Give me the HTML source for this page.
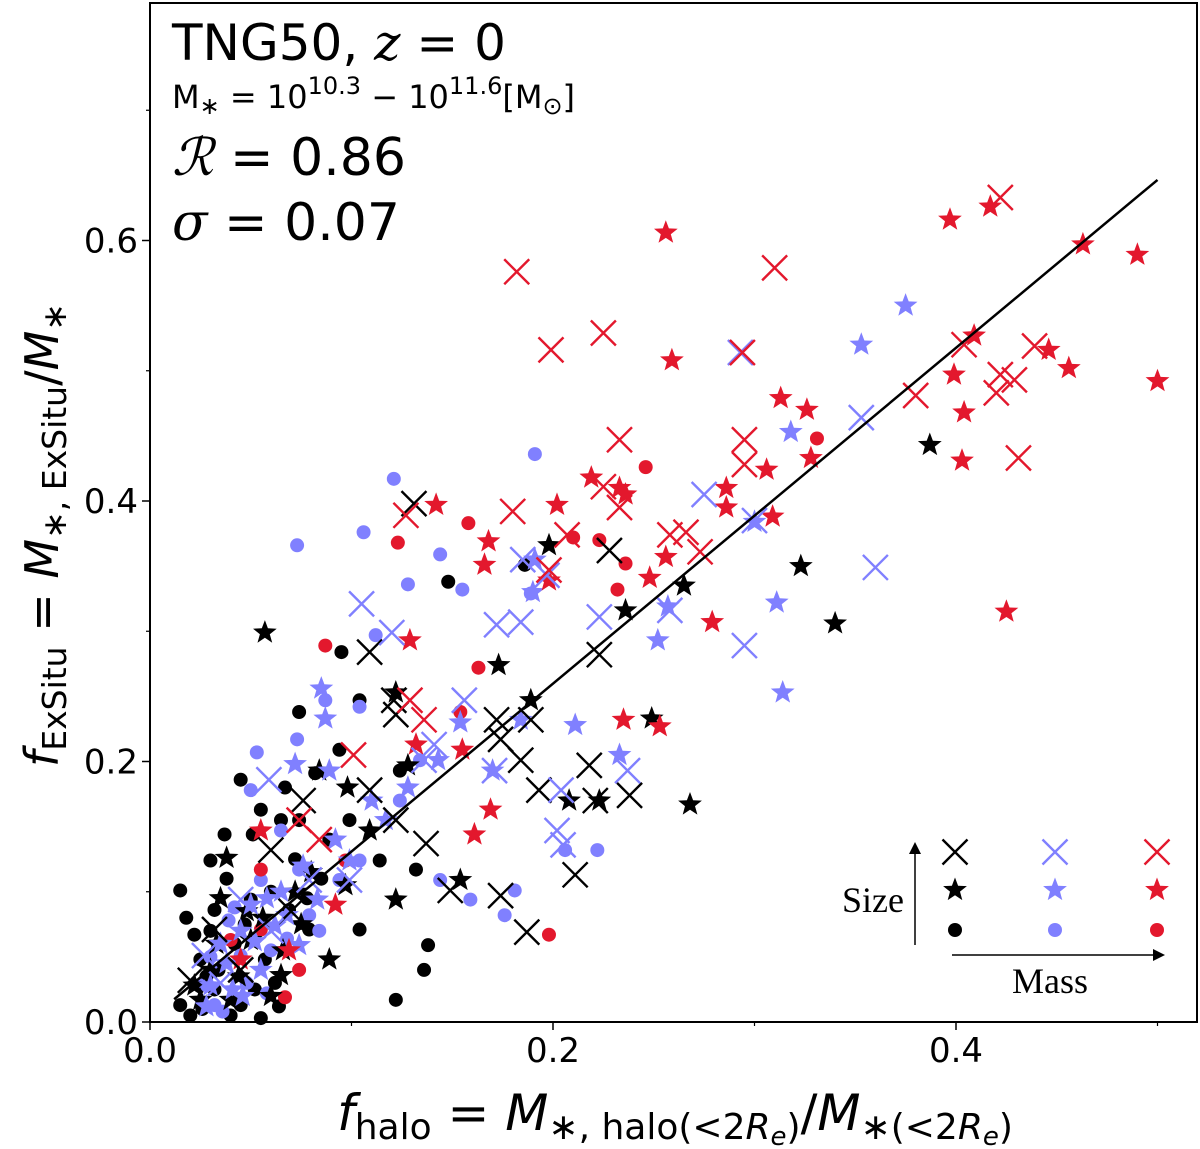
<!DOCTYPE html>
<html><head><meta charset="utf-8"><style>
html,body{margin:0;padding:0;background:#fff;}
svg{display:block;font-family:"DejaVu Sans","Liberation Sans",sans-serif;}
</style></head><body>
<svg id="chart" width="1200" height="1149" viewBox="0 0 1200 1149" xmlns="http://www.w3.org/2000/svg">
<rect x="150" y="3" width="1047" height="1019" fill="#fff" stroke="#000" stroke-width="2"/>
<g id="marks"></g>
<g id="axes"></g>
<g>
<text x="172" y="60" font-size="50">TNG50, <tspan font-style="italic" font-family="DejaVu Serif,serif">z</tspan> = 0</text>
<text x="172" y="108" font-size="32">M<tspan dy="6" font-size="24">∗</tspan><tspan dy="-6"> = 10</tspan><tspan dy="-14" font-size="24">10.3</tspan><tspan dy="14"> − 10</tspan><tspan dy="-14" font-size="24">11.6</tspan><tspan dy="14">[M</tspan><tspan dy="6" font-size="24">⊙</tspan><tspan dy="-6">]</tspan></text>
<text x="172" y="175" font-size="52"><tspan font-style="italic" font-family="DejaVu Serif,serif">ℛ</tspan> = 0.86</text>
<text x="172" y="240" font-size="52"><tspan font-style="italic" font-family="DejaVu Serif,serif">σ</tspan> = 0.07</text>
</g>
<g>
<text x="873" y="912" font-size="36" text-anchor="middle" font-family="Liberation Serif,serif">Size</text>
<line x1="915" y1="945" x2="915" y2="852" stroke="#000" stroke-width="1.5"/>
<path d="M909,854 L915,842 L921,854 Z" fill="#000"/>
<line x1="952" y1="955" x2="1155" y2="955" stroke="#000" stroke-width="1.5"/>
<path d="M1153,949 L1165,955 L1153,961 Z" fill="#000"/>
<text x="1050" y="993" font-size="36" text-anchor="middle" font-family="Liberation Serif,serif">Mass</text>
<g id="legend-marks"></g>
</g>
<text x="675" y="1130" font-size="50" text-anchor="middle"><tspan font-style="italic">f</tspan><tspan dy="9" font-size="36">halo</tspan><tspan dy="-9"> = </tspan><tspan font-style="italic">M</tspan><tspan dy="9" font-size="36">∗, halo(&lt;2</tspan><tspan font-size="36" font-style="italic">R</tspan><tspan dy="6" font-size="26" font-style="italic">e</tspan><tspan dy="-6" font-size="36">)</tspan><tspan dy="-9">/</tspan><tspan font-style="italic">M</tspan><tspan dy="9" font-size="36">∗(&lt;2</tspan><tspan font-size="36" font-style="italic">R</tspan><tspan dy="6" font-size="26" font-style="italic">e</tspan><tspan dy="-6" font-size="36">)</tspan></text>
<text transform="translate(58,535) rotate(-90)" font-size="46" text-anchor="middle"><tspan font-style="italic">f</tspan><tspan dy="8" font-size="33">ExSitu</tspan><tspan dy="-8"> = </tspan><tspan font-style="italic">M</tspan><tspan dy="8" font-size="33">∗, ExSitu</tspan><tspan dy="-8">/</tspan><tspan font-style="italic">M</tspan><tspan dy="8" font-size="33">∗</tspan></text>
</svg>
<script>
const xTicks = [0.0, 0.2, 0.4];
const yTicks = [0.0, 0.2, 0.4, 0.6];
const xTickLabels = ["0.0", "0.2", "0.4"];
const yTickLabels = ["0.0", "0.2", "0.4", "0.6"];
const fitSlope = 1.289;
const fitIntercept = 0.002;
const fitRange = [0.012, 0.5];

const redX = [[0.182,0.576],[0.199,0.516],[0.225,0.529],[0.310,0.579],[0.422,0.633],[0.225,0.411],[0.294,0.514],[0.380,0.481],[0.404,0.520],[0.422,0.497],[0.439,0.519],[0.429,0.493],[0.420,0.483],[0.431,0.433],[0.180,0.392],[0.127,0.389],[0.233,0.395],[0.266,0.376],[0.273,0.361],[0.207,0.374],[0.198,0.347],[0.136,0.232],[0.101,0.205],[0.233,0.447],[0.295,0.447],[0.295,0.428],[0.258,0.374],[0.129,0.247],[0.074,0.155],[0.084,0.140]];
const redStar = [[0.256,0.606],[0.397,0.616],[0.417,0.626],[0.463,0.597],[0.490,0.589],[0.500,0.492],[0.456,0.502],[0.446,0.516],[0.409,0.527],[0.399,0.497],[0.404,0.468],[0.403,0.431],[0.425,0.315],[0.259,0.508],[0.313,0.479],[0.326,0.470],[0.306,0.424],[0.328,0.433],[0.286,0.410],[0.286,0.395],[0.309,0.388],[0.233,0.410],[0.236,0.405],[0.219,0.418],[0.202,0.397],[0.142,0.397],[0.168,0.369],[0.166,0.351],[0.198,0.339],[0.248,0.341],[0.256,0.357],[0.279,0.307],[0.235,0.232],[0.253,0.227],[0.129,0.293],[0.132,0.213],[0.155,0.209],[0.169,0.163],[0.161,0.144],[0.055,0.147],[0.092,0.090],[0.069,0.055],[0.045,0.048]];
const redCircle = [[0.246,0.426],[0.331,0.448],[0.158,0.383],[0.123,0.368],[0.210,0.372],[0.223,0.370],[0.236,0.352],[0.232,0.332],[0.087,0.289],[0.163,0.272],[0.154,0.238],[0.198,0.067],[0.055,0.071],[0.040,0.063],[0.067,0.019],[0.074,0.040],[0.097,0.124],[0.055,0.117]];
const blueX = [[0.293,0.514],[0.353,0.464],[0.275,0.405],[0.300,0.385],[0.360,0.349],[0.295,0.289],[0.105,0.321],[0.120,0.299],[0.185,0.355],[0.197,0.343],[0.223,0.311],[0.172,0.305],[0.184,0.307],[0.258,0.316],[0.059,0.186],[0.141,0.213],[0.156,0.247],[0.171,0.193],[0.237,0.193],[0.202,0.147],[0.205,0.136],[0.204,0.178],[0.079,0.109],[0.045,0.094],[0.027,0.051],[0.099,0.109],[0.136,0.201],[0.035,0.030],[0.060,0.070]];
const blueStar = [[0.375,0.550],[0.353,0.520],[0.318,0.453],[0.300,0.384],[0.311,0.322],[0.314,0.253],[0.252,0.293],[0.257,0.319],[0.233,0.205],[0.211,0.228],[0.190,0.330],[0.191,0.355],[0.085,0.256],[0.087,0.233],[0.072,0.198],[0.089,0.193],[0.170,0.193],[0.154,0.230],[0.143,0.201],[0.184,0.232],[0.117,0.155],[0.050,0.090],[0.062,0.074],[0.074,0.059],[0.041,0.025],[0.030,0.028],[0.099,0.124],[0.083,0.094],[0.035,0.060],[0.055,0.040],[0.065,0.100],[0.045,0.070],[0.110,0.170],[0.128,0.180],[0.038,0.045],[0.052,0.062],[0.068,0.082],[0.028,0.012],[0.046,0.020],[0.058,0.095],[0.076,0.120],[0.092,0.140]];
const blueCircle = [[0.191,0.436],[0.121,0.417],[0.106,0.376],[0.073,0.366],[0.128,0.336],[0.144,0.359],[0.155,0.332],[0.189,0.329],[0.112,0.297],[0.087,0.247],[0.104,0.242],[0.073,0.217],[0.053,0.207],[0.050,0.178],[0.134,0.201],[0.124,0.170],[0.144,0.109],[0.159,0.094],[0.181,0.101],[0.176,0.082],[0.222,0.132],[0.206,0.132],[0.039,0.078],[0.045,0.051],[0.060,0.055],[0.025,0.028],[0.032,0.013],[0.079,0.082],[0.094,0.109],[0.104,0.124],[0.065,0.147],[0.074,0.117],[0.055,0.109],[0.030,0.050],[0.048,0.030],[0.036,0.008],[0.042,0.088],[0.058,0.022],[0.068,0.064],[0.084,0.070]];
const blackX = [[0.131,0.398],[0.109,0.284],[0.121,0.247],[0.122,0.236],[0.172,0.232],[0.189,0.232],[0.184,0.201],[0.174,0.217],[0.218,0.197],[0.221,0.170],[0.211,0.113],[0.187,0.069],[0.174,0.097],[0.149,0.101],[0.137,0.137],[0.122,0.155],[0.109,0.178],[0.076,0.170],[0.060,0.132],[0.032,0.071],[0.020,0.032],[0.223,0.282],[0.193,0.178],[0.238,0.174],[0.228,0.362],[0.045,0.040],[0.070,0.085]];
const blackStar = [[0.387,0.443],[0.323,0.350],[0.340,0.306],[0.268,0.167],[0.249,0.233],[0.265,0.335],[0.236,0.316],[0.198,0.366],[0.173,0.274],[0.189,0.247],[0.223,0.170],[0.208,0.170],[0.057,0.299],[0.122,0.253],[0.128,0.197],[0.098,0.180],[0.084,0.193],[0.097,0.105],[0.122,0.094],[0.154,0.109],[0.038,0.126],[0.065,0.036],[0.050,0.063],[0.025,0.017],[0.040,0.017],[0.089,0.048],[0.109,0.147],[0.030,0.040],[0.048,0.085],[0.060,0.020],[0.075,0.075],[0.035,0.095],[0.022,0.028],[0.033,0.060],[0.044,0.035],[0.056,0.080],[0.066,0.055],[0.072,0.100],[0.080,0.115]];
const blackCircle = [[0.148,0.338],[0.186,0.351],[0.095,0.284],[0.104,0.247],[0.074,0.238],[0.067,0.180],[0.082,0.191],[0.051,0.144],[0.045,0.186],[0.094,0.209],[0.124,0.193],[0.015,0.101],[0.030,0.124],[0.037,0.144],[0.055,0.163],[0.065,0.155],[0.074,0.155],[0.136,0.040],[0.138,0.059],[0.122,0.017],[0.055,0.003],[0.040,0.005],[0.015,0.013],[0.020,0.005],[0.025,0.048],[0.032,0.025],[0.045,0.013],[0.057,0.048],[0.069,0.086],[0.079,0.071],[0.104,0.071],[0.050,0.094],[0.032,0.086],[0.022,0.067],[0.089,0.140],[0.114,0.124],[0.132,0.117],[0.099,0.155],[0.028,0.035],[0.042,0.060],[0.062,0.030],[0.085,0.110],[0.018,0.080],[0.026,0.010],[0.034,0.040],[0.047,0.075],[0.060,0.100],[0.072,0.125],[0.038,0.110],[0.052,0.025],[0.030,0.070],[0.064,0.012],[0.078,0.095]];

const X0=150, X1=1197, Y0=1022, Y1=3;
const xMin=0, xMax=(1197-150)/2015, yMin=0, yMax=(1022-3)/1302.5;
function sx(v){return X0+(v-xMin)/(xMax-xMin)*(X1-X0);}
function sy(v){return Y0-(v-yMin)/(yMax-yMin)*(Y0-Y1);}
const NS="http://www.w3.org/2000/svg";
function mk(tag,attrs,parent){const e=document.createElementNS(NS,tag);for(const k in attrs)e.setAttribute(k,attrs[k]);parent.appendChild(e);return e;}
const COL={black:"#000000",blue:"#8080ff",red:"#e3182d"};
function starPath(cx,cy,R){const r=R*0.42;let d="";for(let i=0;i<10;i++){const a=-Math.PI/2+i*Math.PI/5;const rr=i%2?r:R;d+=(i?"L":"M")+(cx+rr*Math.cos(a)).toFixed(1)+","+(cy+rr*Math.sin(a)).toFixed(1);}return d+"Z";}
function drawMarker(parent,shape,color,px,py){
  let el;
  if(shape==="x"){const h=12.5;el=mk("path",{d:`M${px-h},${py-h}L${px+h},${py+h}M${px-h},${py+h}L${px+h},${py-h}`,stroke:color,"stroke-width":2.4,fill:"none"},parent);}
  else if(shape==="star"){el=mk("path",{d:starPath(px,py,12.5),fill:color},parent);}
  else {el=mk("circle",{cx:px,cy:py,r:7,fill:color},parent);}
  return el;
}
const marks=document.getElementById("marks");
const series=[["black-circle",blackCircle,"circle","black"],["blue-circle",blueCircle,"circle","blue"],["red-circle",redCircle,"circle","red"],["black-star",blackStar,"star","black"],["blue-star",blueStar,"star","blue"],["red-star",redStar,"star","red"],["black-x",blackX,"x","black"],["blue-x",blueX,"x","blue"],["red-x",redX,"x","red"]];
series.forEach(s=>{
  const g=mk("g",{},marks);
  
  
  s[1].forEach(p=>{
    const el=drawMarker(g,s[2],COL[s[3]],sx(p[0]),sy(p[1]));
    
    
  });
});
const fit=mk("line",{x1:sx(fitRange[0]),y1:sy(fitSlope*fitRange[0]+fitIntercept),x2:sx(fitRange[1]),y2:sy(fitSlope*fitRange[1]+fitIntercept),stroke:"#000","stroke-width":2.5},marks);



const axes=document.getElementById("axes");
xTicks.forEach((t,i)=>{
  mk("line",{x1:sx(t),y1:Y0,x2:sx(t),y2:Y0+8,stroke:"#000","stroke-width":1.5},axes);
  const tx=mk("text",{x:sx(t),y:Y0+40,"font-size":34,"text-anchor":"middle"},axes);
  tx.textContent=xTickLabels[i];
  
  
});
yTicks.forEach((t,i)=>{
  mk("line",{x1:X0-8,y1:sy(t),x2:X0,y2:sy(t),stroke:"#000","stroke-width":1.5},axes);
  const tx=mk("text",{x:X0-12,y:sy(t)+12,"font-size":34,"text-anchor":"end"},axes);
  tx.textContent=yTickLabels[i];
  
  
});
for(let v=0.1;v<yMax;v+=0.2){mk("line",{x1:X0-4,y1:sy(v),x2:X0,y2:sy(v),stroke:"#000","stroke-width":1.2},axes);}
for(let v=0.1;v<xMax;v+=0.2){mk("line",{x1:sx(v),y1:Y0,x2:sx(v),y2:Y0+4,stroke:"#000","stroke-width":1.2},axes);}

const lg=document.getElementById("legend-marks");
const lgX=[955,1055,1157], lgY={x:852,star:890,circle:930}, lgC=["black","blue","red"];
["x","star","circle"].forEach(sh=>{lgC.forEach((c,i)=>{
  const el=drawMarker(lg,sh,COL[c],lgX[i],lgY[sh]);
  
  
});});
</script>
</body></html>
